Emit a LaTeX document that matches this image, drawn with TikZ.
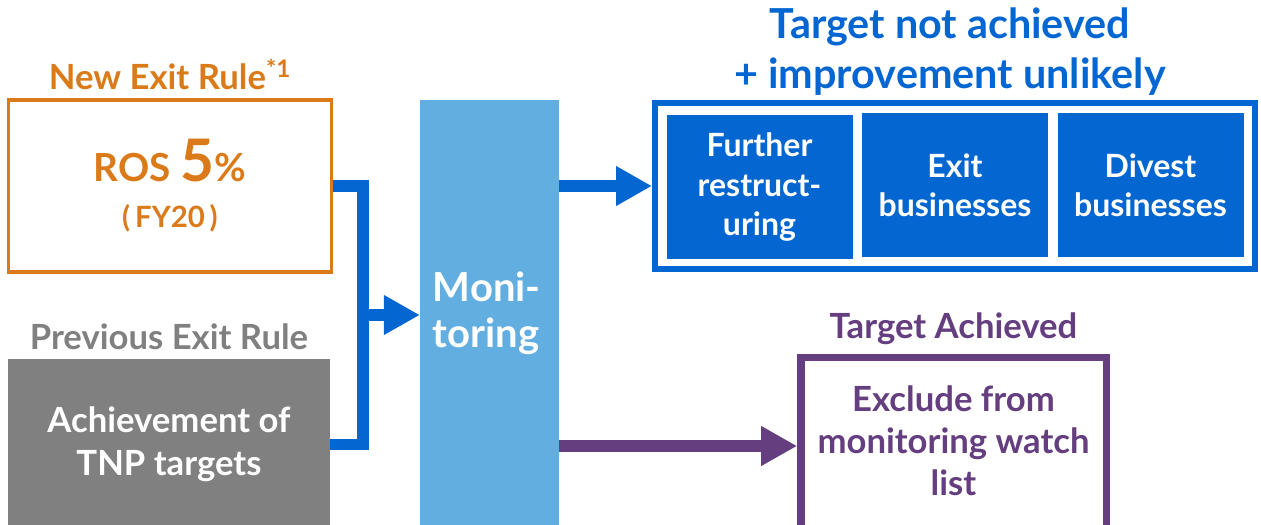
\documentclass[tikz,border=0pt]{standalone}
\usepackage{fontspec}
\setmainfont{Lato}
\usepackage{xcolor}
\usetikzlibrary{positioning,arrows.meta}

\definecolor{rule-orange}{RGB}{219,122,24}
\definecolor{rule-gray}{RGB}{128,128,128}
\definecolor{mon-blue}{RGB}{99,174,224}
\definecolor{act-blue}{RGB}{4,102,209}
\definecolor{ach-purple}{RGB}{101,62,128}

\begin{document}
\begin{tikzpicture}
[
x=0.75pt, y=-0.75pt,
box-a/.style={rectangle, inner sep=0pt, align=center, font=\bfseries},
cell-a/.style={box-a, fill=act-blue, text=white, minimum width=139.5pt, minimum height=108pt,
               font=\bfseries\fontsize{24}{29.5}\selectfont},
text-a/.style={inner sep=0pt, align=center, font=\bfseries\fontsize{26}{30}\selectfont},
flow-b/.style={line width=8.5pt, act-blue},
flow-p/.style={line width=8.5pt, ach-purple}
]
\useasboundingbox (0,0) rectangle (1261,525);
% left side: rules
\node (ros)      [box-a, draw=rule-orange, line width=2.5pt, text=rule-orange,
                  minimum width=242pt, minimum height=129pt] at (170,186)
                 {{\fontsize{29}{30}\selectfont ROS \fontsize{44}{30}\selectfont 5\fontsize{29}{30}\selectfont\%}\\[16pt]
                  {\fontsize{22}{24}\selectfont (\,FY20\,)}};
\node (ros-lab)  [text-a, rule-orange, above = 6pt of ros] {New Exit Rule\textsuperscript{*1}};
\node (achv)     [box-a, fill=rule-gray, text=white, minimum width=241.5pt, minimum height=128pt,
                  font=\bfseries\fontsize{26}{32}\selectfont] at (169,444.5)
                 {Achievement of\\TNP targets};
\node (achv-lab) [text-a, rule-gray, above = 7pt of achv] {Previous Exit Rule};
% middle: monitoring
\node (monit)    [box-a, fill=mon-blue, text=white, minimum width=104pt, minimum height=322.5pt,
                  font=\bfseries\fontsize{30}{35}\selectfont] at (489.5,315)
                 {\begin{tabular}{@{}l@{}}Moni-\\toring\end{tabular}\hspace*{4pt}};
% right side: outcomes
\node (frame)    [box-a, draw=act-blue, line width=4.5pt, minimum width=450pt, minimum height=124.5pt] at (955,186) {};
\node (cell-1)   [cell-a] at (759.5,187)  {Further\\restruct-\\uring};
\node (cell-2)   [cell-a] at (955,185)    {Exit\\businesses};
\node (cell-3)   [cell-a] at (1150.5,185) {Divest\\businesses};
\node (title)    [text-a, act-blue, font=\bfseries\fontsize{31}{37.5}\selectfont] at (950,52)
                 {Target not achieved\\+ improvement unlikely};
\node (excl)     [box-a, draw=ach-purple, line width=5.5pt, text=ach-purple, minimum width=229pt, minimum height=136pt,
                  font=\bfseries\fontsize{26}{31.5}\selectfont, anchor=north] at (953.5,354)
                 {\\[-24pt]Exclude from\\monitoring watch\\list};
\node (excl-lab) [text-a, ach-purple, above = 7pt of excl] {Target Achieved};
% connectors
\coordinate (join) at (363,315);
\draw[flow-b] (ros.east) -| (join) |- (achv.east);
\draw[flow-b, -{Triangle[length=27pt,width=28pt]}] (join) -- (monit.west);
\draw[flow-b, -{Triangle[length=27pt,width=28pt]}] (monit.east |- frame.west) -- (frame.west);
\draw[flow-p, -{Triangle[length=27pt,width=28pt]}] (monit.east |- 0,446) -- (excl.west |- 0,446);
\end{tikzpicture}
\end{document}
